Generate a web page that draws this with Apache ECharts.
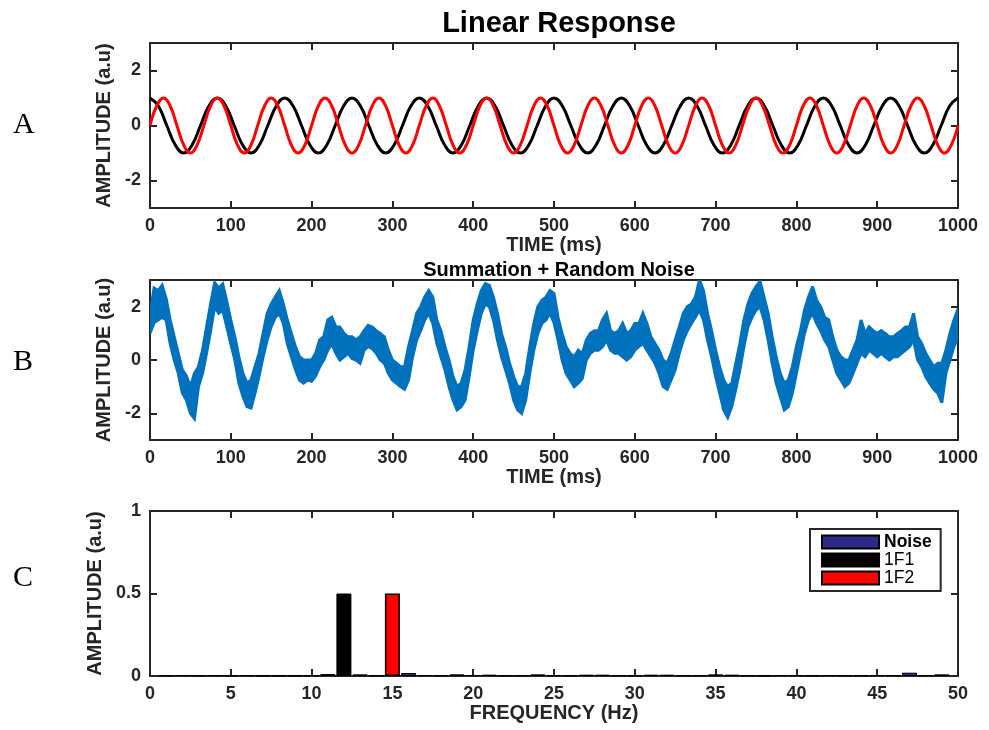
<!DOCTYPE html>
<html><head><meta charset="utf-8">
<script src="https://cdn.jsdelivr.net/npm/echarts@6/dist/echarts.min.js"></script>
<style>html,body{margin:0;padding:0;background:#fff}#c{width:989px;height:730px}</style>
</head><body><div id="c"></div>
<script>
// ---------- Panel A: 1F1 (12 Hz, black) and 1F2 (15 Hz, red), readings in ms / a.u ----------
const blackT = [
0,10.4,20.8,31.3,41.7,52.1,62.5,72.9,
83.3,93.8,104.2,114.6,125,135.4,145.8,156.3,
166.7,177.1,187.5,197.9,208.3,218.8,229.2,239.6,
250,260.4,270.8,281.3,291.7,302.1,312.5,322.9,
333.3,343.8,354.2,364.6,375,385.4,395.8,406.3,
416.7,427.1,437.5,447.9,458.3,468.8,479.2,489.6,
500,510.4,520.8,531.3,541.7,552.1,562.5,572.9,
583.3,593.8,604.2,614.6,625,635.4,645.8,656.3,
666.7,677.1,687.5,697.9,708.3,718.8,729.2,739.6,
750,760.4,770.8,781.3,791.7,802.1,812.5,822.9,
833.3,843.8,854.2,864.6,875,885.4,895.8,906.3,
916.7,927.1,937.5,947.9,958.3,968.8,979.2,989.6,
1000];
const blackV = [
1,0.71,0,-0.71,-1,-0.71,0,0.71,
1,0.71,0,-0.71,-1,-0.71,0,0.71,
1,0.71,0,-0.71,-1,-0.71,0,0.71,
1,0.71,0,-0.71,-1,-0.71,0,0.71,
1,0.71,0,-0.71,-1,-0.71,0,0.71,
1,0.71,0,-0.71,-1,-0.71,0,0.71,
1,0.71,0,-0.71,-1,-0.71,0,0.71,
1,0.71,0,-0.71,-1,-0.71,0,0.71,
1,0.71,0,-0.71,-1,-0.71,0,0.71,
1,0.71,0,-0.71,-1,-0.71,0,0.71,
1,0.71,0,-0.71,-1,-0.71,0,0.71,
1,0.71,0,-0.71,-1,-0.71,0,0.71,
1];
const redT = [
0,8.3,16.7,25,33.3,41.7,50,58.3,66.7,75,
83.3,91.7,100,108.3,116.7,125,133.3,141.7,150,158.3,
166.7,175,183.3,191.7,200,208.3,216.7,225,233.3,241.7,
250,258.3,266.7,275,283.3,291.7,300,308.3,316.7,325,
333.3,341.7,350,358.3,366.7,375,383.3,391.7,400,408.3,
416.7,425,433.3,441.7,450,458.3,466.7,475,483.3,491.7,
500,508.3,516.7,525,533.3,541.7,550,558.3,566.7,575,
583.3,591.7,600,608.3,616.7,625,633.3,641.7,650,658.3,
666.7,675,683.3,691.7,700,708.3,716.7,725,733.3,741.7,
750,758.3,766.7,775,783.3,791.7,800,808.3,816.7,825,
833.3,841.7,850,858.3,866.7,875,883.3,891.7,900,908.3,
916.7,925,933.3,941.7,950,958.3,966.7,975,983.3,991.7,
1000];
const redV = [
0,0.71,1,0.71,0,-0.71,-1,-0.71,
0,0.71,1,0.71,0,-0.71,-1,-0.71,
0,0.71,1,0.71,0,-0.71,-1,-0.71,
0,0.71,1,0.71,0,-0.71,-1,-0.71,
0,0.71,1,0.71,0,-0.71,-1,-0.71,
0,0.71,1,0.71,0,-0.71,-1,-0.71,
0,0.71,1,0.71,0,-0.71,-1,-0.71,
0,0.71,1,0.71,0,-0.71,-1,-0.71,
0,0.71,1,0.71,0,-0.71,-1,-0.71,
0,0.71,1,0.71,0,-0.71,-1,-0.71,
0,0.71,1,0.71,0,-0.71,-1,-0.71,
0,0.71,1,0.71,0,-0.71,-1,-0.71,
0,0.71,1,0.71,0,-0.71,-1,-0.71,
0,0.71,1,0.71,0,-0.71,-1,-0.71,
0,0.71,1,0.71,0,-0.71,-1,-0.71,
0];

// ---------- Panel B: summation + noise, read as upper / lower edge of the noisy trace every 5 ms ----------
const sampleStepB = 5; // ms between readings
const noisyUpper = [
1.7,2.7,2.6,2.8,2.3,1.5,0.87,0.25,-0.37,-0.6,
-1.0,-0.5,-0.25,0.37,1.24,2.1,2.9,2.7,2.85,2.2,
1.5,0.87,0.12,-0.5,-0.87,-0.75,-0.25,0.25,1.0,1.75,
2.1,2.36,2.6,2.1,1.5,1.0,0.5,0.12,0,0,
0,0.25,0.75,0.87,1.5,1.6,1.24,1.24,1.0,0.87,
0.87,0.75,0.87,1.1,1.3,1.24,1.1,1.0,0.87,0.37,
0,-0.12,-0.25,-0.25,0.5,1.1,1.75,2.0,2.36,2.6,
2.36,1.5,1.1,0.5,0,-0.62,-1.0,-0.87,-0.37,0.5,
1.5,2.1,2.6,2.86,2.8,2.36,1.75,1.0,0.5,-0.12,
-0.62,-1.0,-1.0,-0.5,0.5,1.37,2.0,2.24,2.36,2.6,
2.5,1.6,1.0,0.5,0.25,0.12,0.37,0.25,0.75,1.0,
1.1,1.1,1.5,1.75,1.1,1.0,1.1,1.37,1.0,1.1,
1.37,1.37,1.75,1.37,0.87,0.62,0.37,0,-0.12,0.25,
0.75,1.24,1.75,2.0,2.1,2.36,3.0,2.6,1.75,1.1,
0.37,-0.25,-0.75,-1.0,-0.87,-0.12,0.62,1.5,2.1,2.5,
2.75,2.95,2.36,1.75,0.87,0.12,-0.5,-0.87,-0.75,-0.25,
0.5,1.1,1.87,2.36,2.75,2.24,2.0,1.6,1.5,0.87,
0.37,0.12,0,0,0.37,0.75,1.5,1.0,1.24,1.1,
1.0,1.1,1.0,0.87,0.87,1.0,1.1,1.24,1.24,1.75,
0.87,0.62,0.25,0,-0.25,-0.12,-0.12,0.37,1.0,1.5,
1.9];
const noisyLower = [
1.0,1.4,1.5,1.6,1.5,0.6,0,-0.5,-1.24,-1.5,
-2.0,-2.2,-1.0,-0.5,0.25,1.1,2.0,1.75,1.87,1.25,
0.6,0,-0.87,-1.37,-1.75,-1.8,-1.24,-0.6,0.12,0.75,
1.25,1.6,1.75,1.37,0.6,0.12,-0.37,-0.75,-0.87,-0.75,
-0.8,-0.6,-0.25,0,0.37,0.6,0.25,0,0.12,0.25,
0.06,0,-0.12,0.37,0.5,0.43,0.25,0,-0.12,-0.5,
-0.75,-0.87,-1.0,-1.1,-0.75,0.12,0.75,1.1,1.5,1.75,
1.37,0.62,0.12,-0.37,-1.0,-1.5,-1.87,-1.75,-1.5,-0.62,
0.37,1.1,1.75,2.1,2.0,1.5,0.75,0.12,-0.37,-0.87,
-1.5,-1.87,-2.0,-1.5,-0.5,0.37,1.0,1.37,1.5,1.75,
1.4,0.75,0,-0.5,-0.75,-1.0,-0.87,-0.7,0,0.25,
0.37,0.37,0.5,0.75,0.37,0.25,0.25,0.12,0,0.12,
0.37,0.5,0.62,0.37,0.12,-0.12,-0.5,-1.0,-1.1,-0.75,
-0.37,0.25,0.75,1.1,1.37,1.6,1.87,1.5,0.75,0.12,
-0.62,-1.24,-1.87,-2.15,-1.75,-1.1,-0.37,0.5,1.24,1.6,
1.87,2.0,1.5,0.75,-0.12,-0.87,-1.37,-1.87,-1.75,-1.24,
-0.5,0.25,1.0,1.5,1.75,1.37,1.1,0.75,0.5,0,
-0.5,-0.75,-1.0,-0.87,-0.5,-0.12,0.25,0.12,0.37,0.25,
0.12,0.25,0.12,0,0.12,0.12,0.25,0.37,0.5,0.75,
0,-0.25,-0.62,-0.87,-1.1,-1.24,-1.6,-0.5,0,0.5,
0.87];

// ---------- Panel C: amplitude spectrum ----------
const noiseFreq = [1,2,3,4,5,6,7,8,9,10,11,13,14,16,17,18,19,20,21,22,23,24,25,26,27,28,29,30,
                   31,32,33,34,35,36,37,38,39,40,41,42,43,44,45,46,47,48,49];
const noiseAmp  = [0.004,0.006,0.004,0.005,0.003,0.005,0.002,0.002,0.002,0.004,0.012,0.01,0.003,0.018,0.006,0.004,0.01,0.006,0.008,0.003,0.004,0.01,0.004,0.003,0.008,0.008,0.004,0.004,
                   0.008,0.008,0.004,0.004,0.01,0.008,0.004,0.002,0.006,0.005,0.003,0.006,0.004,0.004,0.006,0.005,0.02,0.004,0.01];
const f1Freq = [12], f1Amp = [0.5];
const f2Freq = [15], f2Amp = [0.5];

// tick labels
const timeTicks = {min:0, max:1000, interval:100};
const ampTicksAB = [-2, 0, 2];
const freqTicks = {min:0, max:50, interval:5};
const ampTicksC = {min:0, max:1, interval:0.5};

// ---------- build ----------
const AX = '#262626';
const FONT = '"Liberation Sans", Arial, Helvetica, sans-serif';
const labelStyle = {color:AX, fontWeight:'bold', fontSize:18, fontFamily:FONT};
const nameStyle = {color:AX, fontWeight:'bold', fontSize:20, fontFamily:FONT};
const lineSt = {color:AX, width:2};

function xAxes(grid, t, name) {
  const base = {type:'value', gridIndex:grid, min:t.min, max:t.max, interval:t.interval,
    axisLine:{show:true, onZero:false, lineStyle:lineSt},
    axisTick:{show:true, inside:true, length:7, lineStyle:lineSt},
    splitLine:{show:false}};
  return [
    Object.assign({}, base, {position:'bottom', name:name, nameLocation:'middle', nameGap:27,
      nameTextStyle:nameStyle, axisLabel:Object.assign({margin:9, formatter:v => String(v)}, labelStyle)}),
    Object.assign({}, base, {position:'top', axisLabel:{show:false}})
  ];
}
function yAxes(grid, opts, nameGap) {
  const base = Object.assign({type:'value', gridIndex:grid,
    axisLine:{show:true, onZero:false, lineStyle:lineSt},
    splitLine:{show:false}}, opts.range);
  const tick = {show:true, inside:true, length:7, lineStyle:lineSt};
  const lab = Object.assign({margin:9}, labelStyle);
  if (opts.custom) { tick.customValues = opts.custom; lab.customValues = opts.custom; }
  return [
    Object.assign({}, base, {position:'left', name:'AMPLITUDE (a.u)', nameLocation:'middle',
      nameGap:nameGap, nameTextStyle:nameStyle, axisTick:tick, axisLabel:lab}),
    Object.assign({}, base, {position:'right', axisTick:tick, axisLabel:{show:false}})
  ];
}
const pairs = (xs, ys) => xs.map((x, i) => [x, ys[i]]);
const timeB = noisyUpper.map((_, i) => i * sampleStepB);
const BLUE = '#0072BD';

const option = {
  animation:false,
  backgroundColor:'#fff',
  title:[
    {text:'Linear Response', left:554, top:4, textAlign:'center',
     textStyle:{fontSize:29, fontWeight:'bold', color:'#000', fontFamily:FONT}},
    {text:'Summation + Random Noise', left:554, top:255, textAlign:'center',
     textStyle:{fontSize:20, fontWeight:'bold', color:'#000', fontFamily:FONT}}
  ],
  grid:[
    {left:150, top:43, width:808, height:165},
    {left:150, top:280, width:808, height:160},
    {left:150, top:511, width:808, height:165}
  ],
  xAxis:[].concat(xAxes(0, timeTicks, 'TIME (ms)'), xAxes(1, timeTicks, 'TIME (ms)'),
                  xAxes(2, freqTicks, 'FREQUENCY (Hz)')),
  yAxis:[].concat(
    yAxes(0, {range:{min:-3, max:3}, custom:ampTicksAB}, 30),
    yAxes(1, {range:{min:-3, max:3}, custom:ampTicksAB}, 30),
    yAxes(2, {range:ampTicksC}, 38)),
  legend:{orient:'vertical', left:810, top:529, padding:[4,9,4,11],
    itemWidth:57, itemHeight:13, itemGap:0, icon:'rect',
    borderColor:AX, borderWidth:2, backgroundColor:'#fff', selectedMode:false,
    textStyle:{fontSize:17.5, fontFamily:FONT, color:'#000', lineHeight:18},
    data:[{name:'Noise', textStyle:{fontWeight:'bold'}}, '1F1', '1F2']},
  graphic:[
    {type:'text', left:13, top:110, style:{text:'A', font:'30px "Liberation Serif", "Times New Roman", serif', fill:'#000'}},
    {type:'text', left:13, top:347, style:{text:'B', font:'30px "Liberation Serif", "Times New Roman", serif', fill:'#000'}},
    {type:'text', left:13, top:563, style:{text:'C', font:'30px "Liberation Serif", "Times New Roman", serif', fill:'#000'}}
  ],
  series:[
    {name:'F1 wave', type:'line', xAxisIndex:0, yAxisIndex:0, data:pairs(blackT, blackV),
     smooth:0.45, showSymbol:false, lineStyle:{color:'#000', width:3}},
    {name:'F2 wave', type:'line', xAxisIndex:0, yAxisIndex:0, data:pairs(redT, redV),
     smooth:0.45, showSymbol:false, lineStyle:{color:'#ff0000', width:3}},
    {name:'noisy sum', type:'custom', xAxisIndex:2, yAxisIndex:2, clip:true,
     data:[[500, 0]],
     renderItem:function (params, api) {
       const top = timeB.map((t, i) => api.coord([t, noisyUpper[i]]));
       const bot = timeB.map((t, i) => api.coord([t, noisyLower[i]])).reverse();
       return {type:'polygon', shape:{points:top.concat(bot)},
               style:{fill:BLUE, stroke:BLUE, lineWidth:3, lineJoin:'miter', miterLimit:3}};
     }},
    {name:'Noise', type:'bar', xAxisIndex:4, yAxisIndex:4, barWidth:15, barGap:'-100%',
     data:pairs(noiseFreq, noiseAmp), itemStyle:{color:'#2e2a86', borderColor:'#000', borderWidth:1}},
    {name:'1F1', type:'bar', xAxisIndex:4, yAxisIndex:4, barWidth:15, barGap:'-100%',
     data:pairs(f1Freq, f1Amp), itemStyle:{color:'#000', borderColor:'#000', borderWidth:1}},
    {name:'1F2', type:'bar', xAxisIndex:4, yAxisIndex:4, barWidth:15, barGap:'-100%',
     data:pairs(f2Freq, f2Amp), itemStyle:{color:'#ff0000', borderColor:'#000', borderWidth:1.5}}
  ]
};
const chart = echarts.init(document.getElementById('c'), null, {renderer:'canvas'});
chart.setOption(option);
</script></body></html>
